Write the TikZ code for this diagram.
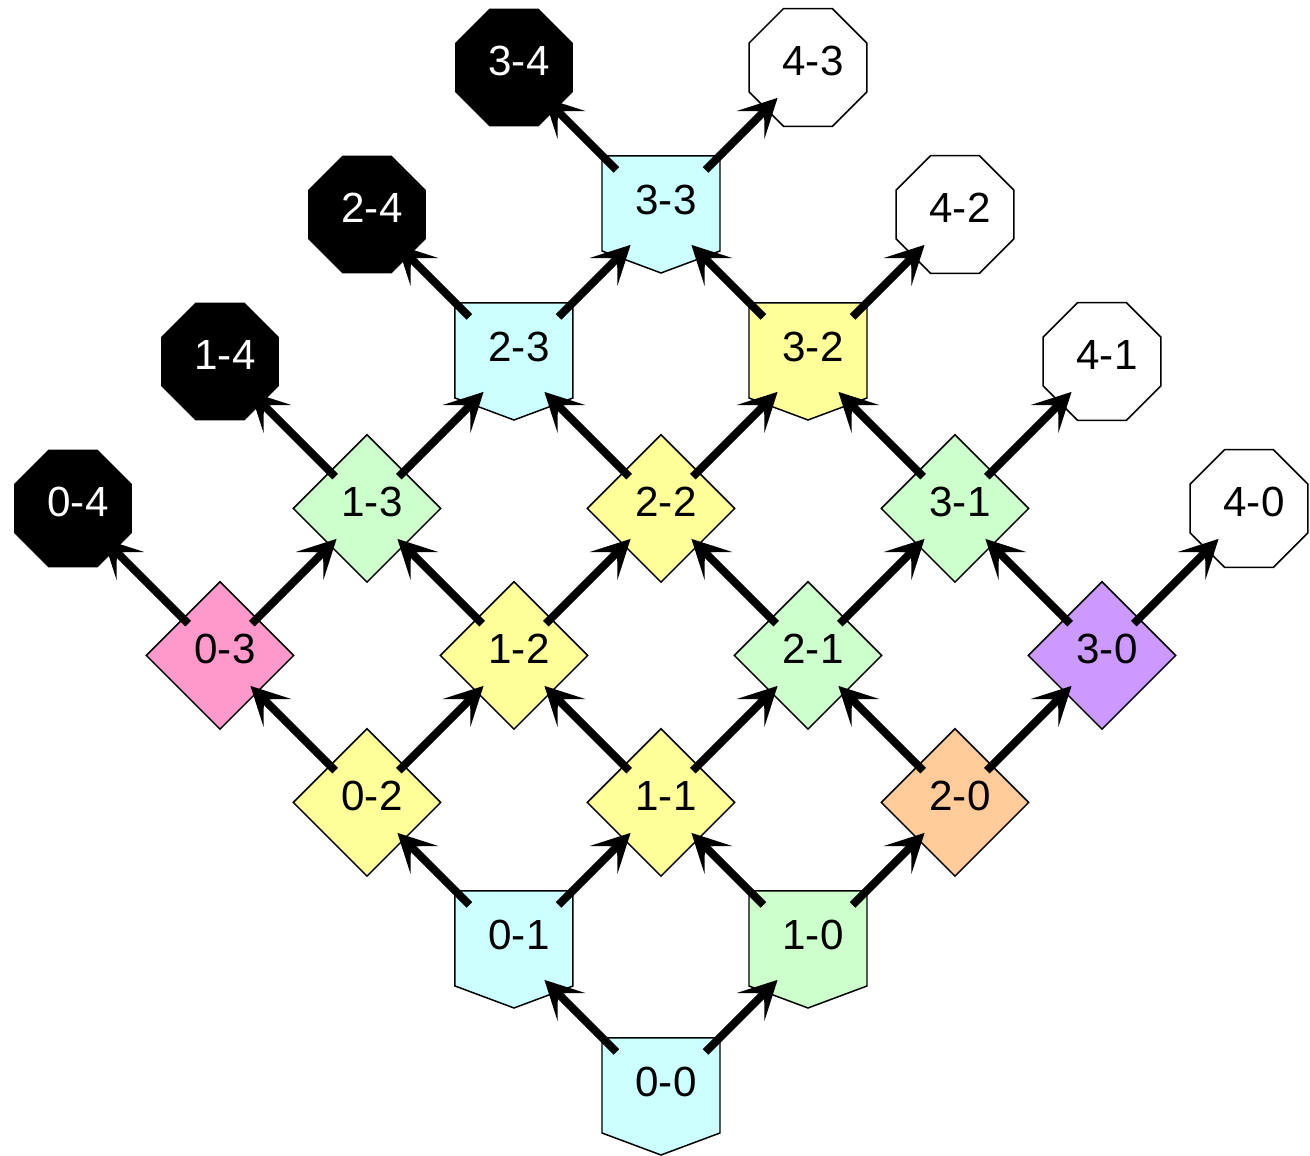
\documentclass[tikz,border=0pt]{standalone}
\usepackage{fontspec}
\setmainfont{Liberation Sans}
\usetikzlibrary{positioning,shapes.geometric,arrows.meta}

\definecolor{cyanish}{HTML}{CCFFFF}
\definecolor{greenish}{HTML}{CCFFCC}
\definecolor{yellowish}{HTML}{FFFF99}
\definecolor{orangish}{HTML}{FFCC99}
\definecolor{pinkish}{HTML}{FF99CC}
\definecolor{purplish}{HTML}{CC99FF}

\tikzset{
	every node/.style={font=\fontsize{24}{28}\selectfont, inner sep=0pt, line width=0.85pt,
		execute at begin node={\hspace*{0.2cm}}},
	% flat top, pointed bottom
	house/.style={rectangle, minimum width=2.44cm, minimum height=2.42cm,
		text height=0.62cm, text depth=0.63cm,
		path picture={\draw[draw=black, line width=0.85pt, fill=#1]
			([shift={(-1.18,1.17)}]path picture bounding box.center)
			-- ([shift={(1.18,1.17)}]path picture bounding box.center)
			-- ([shift={(1.18,-0.73)}]path picture bounding box.center)
			-- ([shift={(0,-1.17)}]path picture bounding box.center)
			-- ([shift={(-1.18,-0.73)}]path picture bounding box.center) -- cycle;}},
	dia/.style={diamond, aspect=1, draw, fill=#1, minimum size=2.96cm,
		text height=0.62cm, text depth=0.29cm},
	octo/.style={regular polygon, regular polygon sides=8, minimum size=2.55cm,
		text height=0.62cm, text depth=0.29cm},
	lost/.style={octo, fill=black, text=white},
	won/.style={octo, draw, fill=white},
	flow/.style={line width=4.5pt, -{Stealth[length=0.76cm, width=0.78cm, inset=0.38cm]},
		shorten >=0.86cm, shorten <=0.9cm},
	fromhouse/.style={shorten <=1.26cm},
}

\begin{document}
\begin{tikzpicture}[on grid, node distance=2.94cm and 2.94cm]
	\useasboundingbox (-13.22,-1.19) rectangle (12.98,21.93);

	\node[house=cyanish](n00){0-0};
	\node[house=cyanish, above left=of n00](n01){0-1};
	\node[house=greenish, above right=of n00](n10){1-0};

	\node[dia=yellowish, above left=of n01](n02){0-2};
	\node[dia=yellowish, above right=of n01](n11){1-1};
	\node[dia=orangish, above right=of n10](n20){2-0};

	\node[dia=pinkish, above left=of n02](n03){0-3};
	\node[dia=yellowish, above right=of n02](n12){1-2};
	\node[dia=greenish, above right=of n11](n21){2-1};
	\node[dia=purplish, above right=of n20](n30){3-0};

	\node[lost, above left=of n03](n04){0-4};
	\node[dia=greenish, above right=of n03](n13){1-3};
	\node[dia=yellowish, above right=of n12](n22){2-2};
	\node[dia=greenish, above right=of n21](n31){3-1};
	\node[won, above right=of n30](n40){4-0};

	\node[lost, above left=of n13](n14){1-4};
	\node[house=cyanish, above right=of n13](n23){2-3};
	\node[house=yellowish, above right=of n22](n32){3-2};
	\node[won, above right=of n31](n41){4-1};

	\node[lost, above left=of n23](n24){2-4};
	\node[house=cyanish, above right=of n23](n33){3-3};
	\node[won, above right=of n32](n42){4-2};

	\node[lost, above left=of n33](n34){3-4};
	\node[won, above right=of n33](n43){4-3};

	% moves: up-left adds to the second number, up-right to the first
	\draw[flow, fromhouse] (n00.center) -- (n01.center);
	\draw[flow, fromhouse] (n00.center) -- (n10.center);
	\draw[flow, fromhouse] (n01.center) -- (n02.center);
	\draw[flow, fromhouse] (n01.center) -- (n11.center);
	\draw[flow, fromhouse] (n10.center) -- (n11.center);
	\draw[flow, fromhouse] (n10.center) -- (n20.center);

	\draw[flow] (n02.center) -- (n03.center);
	\draw[flow] (n02.center) -- (n12.center);
	\draw[flow] (n11.center) -- (n12.center);
	\draw[flow] (n11.center) -- (n21.center);
	\draw[flow] (n20.center) -- (n21.center);
	\draw[flow] (n20.center) -- (n30.center);

	\draw[flow] (n03.center) -- (n04.center);
	\draw[flow] (n03.center) -- (n13.center);
	\draw[flow] (n12.center) -- (n13.center);
	\draw[flow] (n12.center) -- (n22.center);
	\draw[flow] (n21.center) -- (n22.center);
	\draw[flow] (n21.center) -- (n31.center);
	\draw[flow] (n30.center) -- (n31.center);
	\draw[flow] (n30.center) -- (n40.center);

	\draw[flow] (n13.center) -- (n14.center);
	\draw[flow] (n13.center) -- (n23.center);
	\draw[flow] (n22.center) -- (n23.center);
	\draw[flow] (n22.center) -- (n32.center);
	\draw[flow] (n31.center) -- (n32.center);
	\draw[flow] (n31.center) -- (n41.center);

	\draw[flow, fromhouse] (n23.center) -- (n24.center);
	\draw[flow, fromhouse] (n23.center) -- (n33.center);
	\draw[flow, fromhouse] (n32.center) -- (n33.center);
	\draw[flow, fromhouse] (n32.center) -- (n42.center);

	\draw[flow, fromhouse] (n33.center) -- (n34.center);
	\draw[flow, fromhouse] (n33.center) -- (n43.center);
\end{tikzpicture}
\end{document}
